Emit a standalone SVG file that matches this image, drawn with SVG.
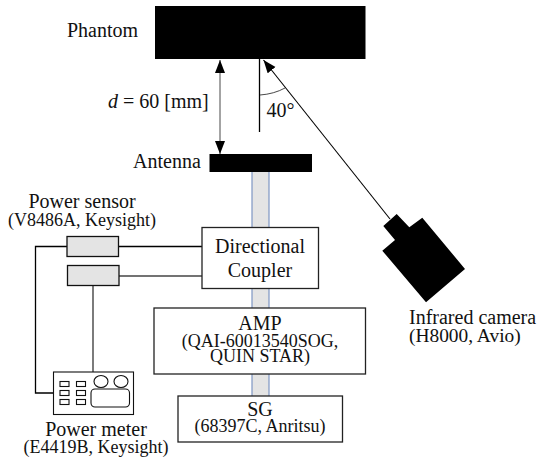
<svg xmlns="http://www.w3.org/2000/svg" width="537" height="461" viewBox="0 0 537 461">
<style>
text{font-family:"Liberation Serif","Times New Roman",serif;fill:#111}
.l{font-size:20px}
.s{font-size:18px}
.m{text-anchor:middle}
.box{fill:#fff;stroke:#222;stroke-width:1.3}
.sensor{fill:#e4e4e4;stroke:#111;stroke-width:1.3}
.blk{fill:#000}
.wire{fill:none;stroke:#000;stroke-width:1.3}
.gw{fill:none;stroke:#444;stroke-width:1.4}
.thin{fill:none;stroke:#333;stroke-width:.9}
.diag{fill:none;stroke:#000;stroke-width:1.1}
.dev{fill:#fff;stroke:#111;stroke-width:1.1}
.wg{stroke:#7f97c4;stroke-width:1.2}
</style>
<defs>
<marker id="ah" markerUnits="userSpaceOnUse" markerWidth="14" markerHeight="12" refX="13" refY="5" orient="auto-start-reverse"><path d="M0 0L13 5L0 10Z" fill="#000"/></marker>
</defs>
<g id="waveguide">
<rect x="252" y="172" width="17" height="224" fill="#e4e4e4"/>
<path class="wg" d="M252 172V396M269 172V396"/>
</g>
<g id="connectors">
<path class="wire" d="M67 246.500H35.500V393H53.500"/>
<path class="wire" d="M118.500 246.500H202"/>
<path class="gw" d="M119 276H202"/>
<path class="gw" d="M93 285V372"/>
<path class="thin" marker-start="url(#ah)" marker-end="url(#ah)" d="M220 60V154"/>
<path class="wire" d="M259.500 59V132"/>
<path class="thin" d="M260 95Q274 94 285 88"/>
<path class="diag" marker-end="url(#ah)" d="M390 219L263.500 60"/>
</g>
<g id="phantom">
<rect class="blk" x="155" y="6" width="210.500" height="53"/>
<text class="l" x="67" y="37">Phantom</text>
</g>
<g id="distance-label"><text class="l" x="108" y="108"><tspan font-style="italic">d</tspan> = 60 [mm]</text></g>
<g id="angle-label"><text class="l" x="266.500" y="117">40°</text></g>
<g id="antenna">
<rect class="blk" x="209.500" y="154" width="102.500" height="18"/>
<text class="l" x="133" y="168">Antenna</text>
</g>
<g id="coupler">
<rect class="box" x="202" y="227.500" width="116.500" height="61"/>
<text class="l m" x="260" y="253">Directional</text>
<text class="l m" x="260" y="277">Coupler</text>
</g>
<g id="amp">
<rect class="box" x="154" y="308" width="211.500" height="66"/>
<text class="l m" x="260" y="330">AMP</text>
<text class="s m" x="260" y="347">(QAI-60013540SOG,</text>
<text class="s m" x="260" y="362">QUIN STAR)</text>
</g>
<g id="sg">
<rect class="box" x="178" y="396" width="164.500" height="46"/>
<text class="l m" x="260" y="416">SG</text>
<text class="s m" x="260" y="432">(68397C, Anritsu)</text>
</g>
<g id="sensor-1">
<rect class="sensor" x="67" y="236.500" width="51.500" height="20"/>
<text class="l m" x="82" y="208">Power sensor</text>
<text class="s m" x="82" y="226">(V8486A, Keysight)</text>
</g>
<g id="sensor-2"><rect class="sensor" x="67.500" y="265.500" width="51.500" height="20"/></g>
<g id="power-meter">
<rect class="dev" x="53.500" y="372" width="80" height="42.500"/>
<rect class="dev" x="60" y="381.500" width="9" height="5"/>
<rect class="dev" x="60" y="390.500" width="9" height="5"/>
<rect class="dev" x="60" y="399.500" width="9" height="5"/>
<rect class="dev" x="76.500" y="381.500" width="9" height="5"/>
<rect class="dev" x="76.500" y="390.500" width="9" height="5"/>
<rect class="dev" x="76.500" y="399.500" width="9" height="5"/>
<ellipse class="dev" cx="101" cy="381.500" rx="7" ry="6"/>
<ellipse class="dev" cx="121" cy="381.500" rx="7" ry="6"/>
<rect class="dev" x="91" y="389" width="38.500" height="18" rx="4"/>
<text class="l m" x="96" y="436">Power meter</text>
<text class="s m" x="96" y="453">(E4419B, Keysight)</text>
</g>
<g id="camera">
<polygon class="blk" points="396.700,214 409.300,227.300 422.300,217.700 465,269 426,302.300 382.300,250.700 395,240 383.300,226"/>
<text class="l" x="409" y="324">Infrared camera</text>
<text class="l" x="409" y="342" style="font-size:19.400px">(H8000, Avio)</text>
</g>
</svg>
